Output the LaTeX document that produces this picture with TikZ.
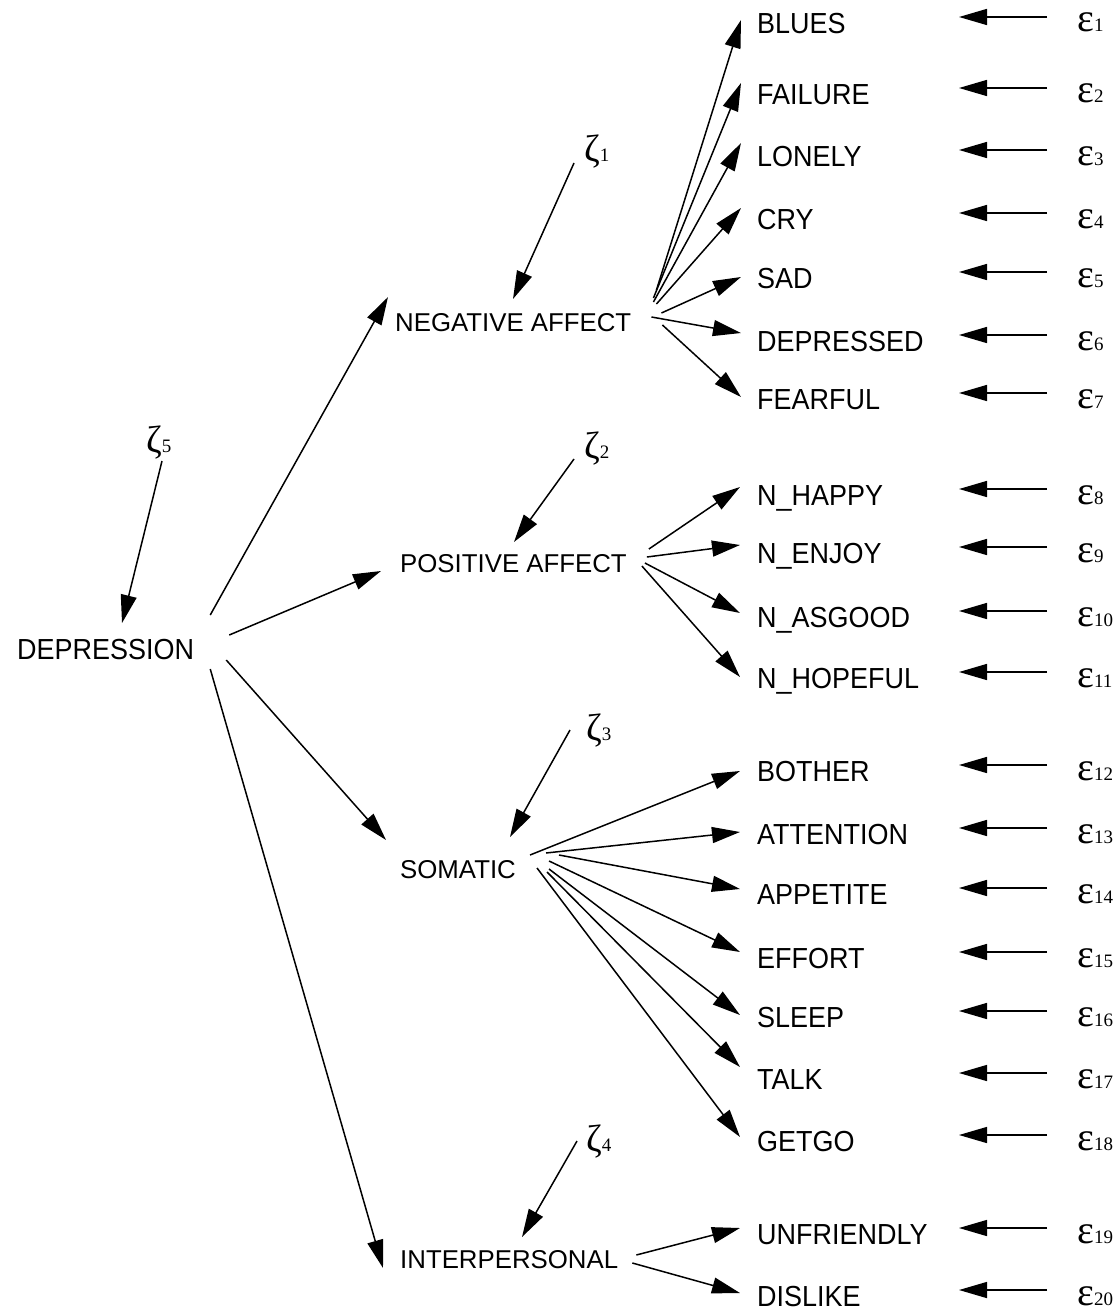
\documentclass[tikz,border=0pt]{standalone}
\usepackage{fontspec}
\setmainfont{Liberation Sans}
\newfontfamily\narrowsans{Liberation Sans}[FakeStretch=0.93]
\newfontfamily\grk{Liberation Serif}
\usetikzlibrary{arrows.meta,calc}
\newcommand{\subs}[1]{{\fontsize{19}{19}\selectfont #1}}
\newcommand{\zsub}[1]{{\fontsize{19}{19}\selectfont #1}}
\tikzset{
  leaf/.style={font=\narrowsans\fontsize{29}{29}\selectfont, inner sep=0pt, anchor=west, text height=20.8pt, text depth=0pt},
  mid/.style={font=\fontsize{25.8}{25.8}\selectfont, inner sep=0pt, anchor=west, text height=18.5pt, text depth=0pt},
  eps/.style={font=\grk\fontsize{40}{40}\selectfont, inner sep=0pt, anchor=west, text height=18pt, text depth=0pt},
  zet/.style={font=\grk\fontsize{38}{38}\selectfont, inner sep=0pt, anchor=base west},
  arr/.style={line width=1.5pt, -{Triangle[length=28pt,width=16pt]}}
}
\begin{document}
\begin{tikzpicture}[x=1pt,y=-1pt]
\useasboundingbox[fill=white] (0,0) rectangle (1118,1311);

% latent nodes
\node[leaf] (dep) at (17,649) {DEPRESSION};
\node[mid] (na) at (395,322) {NEGATIVE AFFECT};
\node[mid] (pa) at (400,563) {POSITIVE AFFECT};
\node[mid] (som) at (400,869) {SOMATIC};
\node[mid] (int) at (400,1259) {INTERPERSONAL};

% disturbances
\node[zet] (z5) at (146,452) {ζ\zsub{5}};
\node[zet] (z1) at (584,161) {ζ\zsub{1}};
\node[zet] (z2) at (584,458) {ζ\zsub{2}};
\node[zet] (z3) at (586,740) {ζ\zsub{3}};
\node[zet] (z4) at (586,1151) {ζ\zsub{4}};

% indicators with errors
\foreach \n/\t/\r/\i in {
  blues/BLUES/23/1, failure/FAILURE/94/2, lonely/LONELY/156/3, cry/CRY/219/4,
  sad/SAD/278/5, depressed/DEPRESSED/341/6, fearful/FEARFUL/399/7,
  happy/N\_HAPPY/495/8, enjoy/N\_ENJOY/553/9, asgood/N\_ASGOOD/617/10, hopeful/N\_HOPEFUL/678/11,
  bother/BOTHER/771/12, attention/ATTENTION/834/13, appetite/APPETITE/894/14,
  effort/EFFORT/958/15, sleep/SLEEP/1017/16, talk/TALK/1079/17, getgo/GETGO/1141/18,
  unfriendly/UNFRIENDLY/1234/19, dislike/DISLIKE/1296/20}{
  \node[leaf] (\n) at (757,\r) {\t};
  \node[eps] (e\i) at (1077,\r) {ε\subs{\i}};
  \draw[arr] ($(e\i.west)+(-30,-6)$) -- ($(e\i.west)+(-118,-6)$);
}

% zeta arrows
\draw[arr] ($(z5.base west)+(16,9)$) -- ($(dep.west)+(105,-26)$);
\draw[arr] ($(z1.base west)+(-10,2)$) -- ($(na.west)+(118,-23)$);
\draw[arr] ($(z2.base west)+(-10,1)$) -- ($(pa.west)+(114,-21)$);
\draw[arr] ($(z3.base west)+(-16,-10)$) -- ($(som.west)+(110,-32)$);
\draw[arr] ($(z4.base west)+(-9,-10)$) -- ($(int.west)+(122,-22)$);

% second-order loadings
\draw[arr] ($(dep.east)+(16,-34)$) -- ($(na.west)+(-7,-25)$);
\draw[arr] ($(dep.east)+(35,-14)$) -- ($(pa.west)+(-19,8)$);
\draw[arr] ($(dep.east)+(32,11)$) -- ($(som.west)+(-14,-29)$);
\draw[arr] ($(dep.east)+(16,20)$) -- ($(int.west)+(-17,9)$);

% negative affect
\draw[arr] ($(na.east)+(25,-32)$) -- ($(blues.west)+(-16,-3)$);
\draw[arr] ($(na.east)+(22,-24)$) -- ($(failure.west)+(-16,-11)$);
\draw[arr] ($(na.east)+(22,-20)$) -- ($(lonely.west)+(-16,-13)$);
\draw[arr] ($(na.east)+(25,-18)$) -- ($(cry.west)+(-16,-11)$);
\draw[arr] ($(na.east)+(30,-9)$) -- ($(sad.west)+(-16,-1)$);
\draw[arr] ($(na.east)+(20,-5)$) -- ($(depressed.west)+(-16,-8)$);
\draw[arr] ($(na.east)+(31,3)$) -- ($(fearful.west)+(-16,-2)$);

% positive affect
\draw[arr] ($(pa.east)+(22,-14)$) -- ($(happy.west)+(-17,-8)$);
\draw[arr] ($(pa.east)+(20,-6)$) -- ($(enjoy.west)+(-17,-8)$);
\draw[arr] ($(pa.east)+(18,0)$) -- ($(asgood.west)+(-17,-4)$);
\draw[arr] ($(pa.east)+(15,3)$) -- ($(hopeful.west)+(-17,-1)$);

% somatic
\draw[arr] ($(som.east)+(14,-14)$) -- ($(bother.west)+(-17,0)$);
\draw[arr] ($(som.east)+(30,-16)$) -- ($(attention.west)+(-17,-2)$);
\draw[arr] ($(som.east)+(43,-14)$) -- ($(appetite.west)+(-17,-5)$);
\draw[arr] ($(som.east)+(33,-8)$) -- ($(effort.west)+(-17,-6)$);
\draw[arr] ($(som.east)+(33,0)$) -- ($(sleep.west)+(-17,-2)$);
\draw[arr] ($(som.east)+(31,3)$) -- ($(talk.west)+(-17,-12)$);
\draw[arr] ($(som.east)+(21,-1)$) -- ($(getgo.west)+(-17,-4)$);

% interpersonal
\draw[arr] ($(int.east)+(18,-4)$) -- ($(unfriendly.west)+(-17,-6)$);
\draw[arr] ($(int.east)+(14,4)$) -- ($(dislike.west)+(-17,-3)$);
\end{tikzpicture}
\end{document}
